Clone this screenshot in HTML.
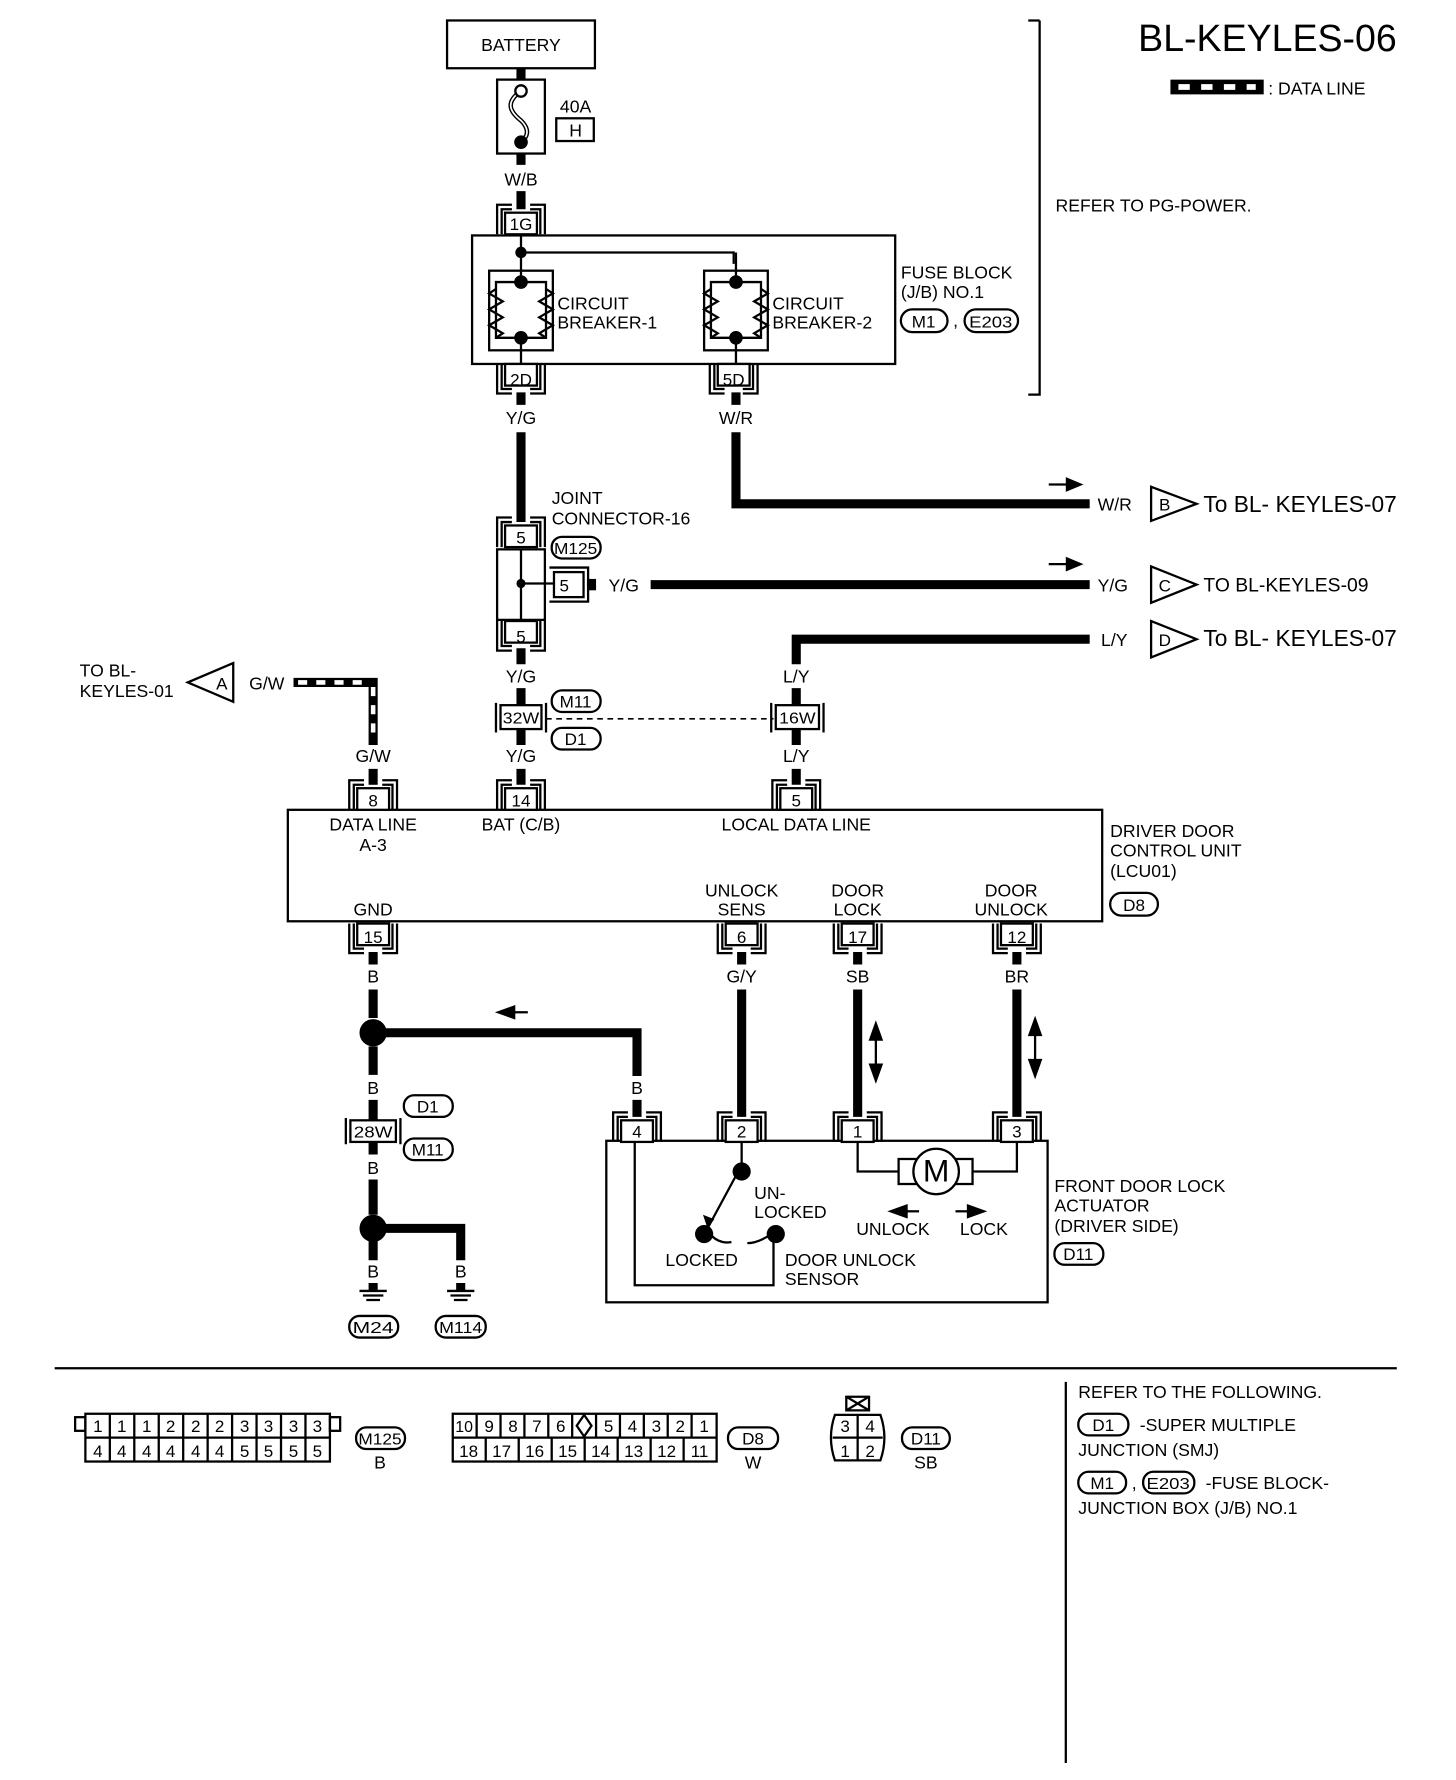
<!DOCTYPE html>
<html><head><meta charset="utf-8"><style>
html,body{margin:0;padding:0;background:#fff}
svg{display:block}
text{font-family:"Liberation Sans",sans-serif;fill:#000}
</style></head><body>
<svg width="1456" height="1780" viewBox="0 0 1280 1565" xmlns="http://www.w3.org/2000/svg" font-size="15.5">
<defs>
<g id="ct" fill="none" stroke="#000" stroke-width="2">
<path d="M-21,26 V0 H-8 M8,0 H21 V26 M-17,26 V4 H-8 M8,4 H17 V26"/>
<rect x="-14" y="7" width="28" height="19" fill="#fff"/>
</g>
<g id="cb" fill="none" stroke="#000" stroke-width="2">
<rect x="-28" y="0" width="56" height="70"/>
<path d="M0,-16 V10 M-22,10 H22 V59 H-22 Z M0,59 V86"/>
<path d="M-22,16 l-6,4 l12,7 l-12,7 l12,7 l-12,7 l12,7 l-6,4 M22,16 l6,4 l-12,7 l12,7 l-12,7 l12,7 l-12,7 l6,4"/>
<circle cx="0" cy="10" r="5" fill="#000"/><circle cx="0" cy="59" r="5" fill="#000"/>
</g>
<g id="gnd" stroke="#000" stroke-width="2"><path d="M-12,0 H12 M-9,4 H9 M-6,8 H6"/></g>
</defs>
<g fill="none" stroke="#000" stroke-width="2">
<rect x="393" y="18" width="130" height="42"/>
<rect x="437" y="70" width="42" height="65"/>
<path d="M458,80 c-14,10 -10,18 0,26 c8,8 6,14 0,19" stroke-width="4"/>
<path d="M458,80 c-14,10 -10,18 0,26 c8,8 6,14 0,19" stroke="#fff" stroke-width="1.5"/>
<rect x="489" y="104" width="33" height="20"/>
<rect x="415" y="207" width="372" height="113"/>
<path d="M458,205 V222 H645 V232"/>
<path d="M914,18 H904 M914,18 V347 H904"/>
<rect x="437" y="483" width="42" height="62"/>
<path d="M458,483 V545 M458,513 H487"/>
<rect x="487" y="503" width="26" height="22" fill="#fff"/>
<path d="M483,499 H517 V529 H483"/>
<rect x="517" y="510" width="6" height="8" fill="#000"/>
<rect x="253" y="712" width="716" height="98"/>
<rect x="533" y="1003" width="388" height="142"/>
<path d="M558,1003 V1130 H680 V1083"/>
<path d="M652,1003 V1030 M649,1030 L622,1080"/>
<path d="M625,1086 q8,8 18,6 M657,1093 q8,0 18,-6"/>
<path d="M754,1003 V1030 H790 M855,1030 H894 V1003"/>
<rect x="790" y="1019" width="65" height="22" fill="#fff"/>
<circle cx="823" cy="1030" r="20" fill="#fff"/>
<path d="M480,632 H680" stroke-dasharray="5,4" stroke-width="1.5"/>
<path d="M48,1203 H1228 M937,1215 V1550"/>
<path d="M1012,428 L1052,443 L1012,458 Z M1012,498 L1052,514 L1012,530 Z M1012,546 L1052,562 L1012,578 Z M205,583 L165,600 L205,617 Z"/>
</g>
<polygon points="622,1080 618,1068 628,1072" fill="#000"/>
<g fill="#000"><circle cx="458" cy="222" r="5"/><circle cx="458" cy="80" r="5" fill="#fff" stroke="#000" stroke-width="2"/><circle cx="458" cy="125" r="6"/><circle cx="458" cy="513" r="4"/>
<circle cx="652" cy="1030" r="8"/><circle cx="619" cy="1085" r="8"/><circle cx="682" cy="1085" r="8"/>
<circle cx="328" cy="908" r="12"/><circle cx="328" cy="1080" r="12"/></g>
<use href="#cb" x="458" y="238"/><use href="#cb" x="647" y="238"/>
<g fill="none" stroke="#000" stroke-width="8">
<path d="M458,60 V70 M458,135 V145 M458,168 V184"/>
<path d="M458,345 V356 M647,345 V356 M458,380 V459 M647,380 V443 H958"/>
<path d="M572,514 H958 M958,562 H700 V584 M458,570 V584 M458,605 V622 M700,605 V622 M458,641 V655 M700,641 V655 M458,676 V690 M700,676 V690"/>
<path d="M328,837 V848 M652,837 V848 M754,837 V848 M894,837 V848"/>
<path d="M328,870 V895 M328,920 V945 M328,908 H560 V946 M652,870 V982 M754,870 V982 M894,870 V982 M560,967 V982"/>
<path d="M328,967 V985 M328,1003 V1015 M328,1037 V1068 M328,1080 H405 V1108 M328,1090 V1108 M328,1128 V1135 M405,1128 V1135"/>
<path d="M328,676 V690"/>
<path d="M258,600 H328 V655"/>
</g>
<path d="M262,600 H324 M328,604 V652" stroke="#fff" stroke-width="4" stroke-dasharray="8,8" fill="none"/>
<g stroke="#000" stroke-width="2"><path d="M1030,71 H1110 V82 H1030 Z" fill="#000"/></g>
<path d="M1036,76.5 H1104" stroke="#fff" stroke-width="5" stroke-dasharray="10,10"/>
<use href="#ct" x="458" y="180"/>
<use href="#ct" x="458" y="455"/>
<use href="#ct" x="328" y="686"/><use href="#ct" x="458" y="686"/><use href="#ct" x="700" y="686"/>
<use href="#ct" x="560" y="978"/><use href="#ct" x="652" y="978"/><use href="#ct" x="754" y="978"/><use href="#ct" x="894" y="978"/>
<g transform="translate(0,346) scale(1,-1)"><use href="#ct" x="458" y="0"/><use href="#ct" x="645" y="0"/></g>
<g transform="translate(0,572) scale(1,-1)"><use href="#ct" x="458" y="0"/></g>
<g transform="translate(0,838) scale(1,-1)"><use href="#ct" x="328" y="0"/><use href="#ct" x="652" y="0"/><use href="#ct" x="754" y="0"/><use href="#ct" x="894" y="0"/></g>
<g fill="#fff" stroke="#000" stroke-width="2">
<rect x="440" y="620" width="36" height="21"/><rect x="682" y="620" width="38" height="21"/><rect x="308" y="985" width="40" height="19"/>
<path d="M436,618 V644 M480,618 V644 M678,618 V644 M724,618 V644 M304,983 V1006 M352,983 V1006" fill="none"/>
</g>
<g fill="#000" stroke="#000" stroke-width="2">
<path d="M922,426 H938"/><polygon points="950,426 938,421 938,431"/>
<path d="M922,496 H938"/><polygon points="950,496 938,491 938,501"/>
<path d="M452,890 H464"/><polygon points="438,890 452,885 452,895"/>
<path d="M770,912 V938"/><polygon points="770,900 765,914 775,914"/><polygon points="770,950 765,936 775,936"/>
<path d="M910,908 V934"/><polygon points="910,896 905,910 915,910"/><polygon points="910,946 905,932 915,932"/>
<path d="M796,1065 H808"/><polygon points="783,1065 797,1060 797,1070"/>
<path d="M840,1065 H852"/><polygon points="865,1065 851,1060 851,1070"/>
</g>
<use href="#gnd" x="328" y="1135"/><use href="#gnd" x="405" y="1135"/>
<g fill="none" stroke="#000" stroke-width="2">
<rect x="792" y="272" width="41" height="20" rx="10"/><rect x="848" y="272" width="47" height="20" rx="10"/>
<rect x="485" y="472" width="43" height="19" rx="9"/>
<rect x="485" y="607" width="43" height="19" rx="9"/><rect x="485" y="640" width="43" height="19" rx="9"/>
<rect x="976" y="785" width="42" height="20" rx="10"/>
<rect x="355" y="963" width="43" height="19" rx="9"/><rect x="355" y="1001" width="43" height="19" rx="9"/>
<rect x="927" y="1093" width="43" height="19" rx="9"/>
<rect x="307" y="1157" width="43" height="19" rx="9"/><rect x="383" y="1157" width="44" height="19" rx="9"/>
<rect x="313" y="1255" width="43" height="19" rx="9"/><rect x="640" y="1255" width="44" height="19" rx="9"/><rect x="793" y="1255" width="42" height="19" rx="9"/>
<rect x="948" y="1243" width="44" height="19" rx="9"/><rect x="948" y="1294" width="42" height="19" rx="9"/><rect x="1005" y="1294" width="45" height="19" rx="9"/>
<rect x="75" y="1243" width="215" height="42"/><path d="M75,1264 H290 M96.5,1243 V1285 M118,1243 V1285 M139.5,1243 V1285 M161,1243 V1285 M182.5,1243 V1285 M204,1243 V1285 M225.5,1243 V1285 M247,1243 V1285 M268.5,1243 V1285"/>
<rect x="66" y="1246" width="9" height="12"/><rect x="290" y="1246" width="9" height="12"/>
<rect x="398" y="1243" width="232" height="42"/><path d="M398,1264 H630 M419,1243 V1264 M440,1243 V1264 M461,1243 V1264 M482,1243 V1264 M503,1243 V1264 M524,1243 V1264 M545,1243 V1264 M566,1243 V1264 M587,1243 V1264 M608,1243 V1264 M427,1264 V1285 M456,1264 V1285 M485,1264 V1285 M514,1264 V1285 M543,1264 V1285 M572,1264 V1285 M601,1264 V1285"/>
<path d="M513.5,1244 L507,1253.5 L513.5,1263 L520,1253.5 Z"/>
<path d="M734,1244 H774 Q781,1264 774,1284 H734 Q727,1264 734,1244 Z M732,1264 H776 M754,1244 V1284"/>
<path d="M744,1228 H764 V1240 H744 Z M744,1228 L764,1240 M764,1228 L744,1240"/>
</g>
<g text-anchor="middle">
<text x="458" y="45">BATTERY</text>
<text x="506" y="99">40A</text><text x="506" y="120">H</text>
<text x="458" y="163">W/B</text>
<text x="458" y="202" font-size="15">1G</text>
<text x="458" y="339" font-size="15">2D</text><text x="645" y="339" font-size="15">5D</text>
<text x="458" y="373">Y/G</text><text x="647" y="373">W/R</text>
<text x="458" y="478" font-size="15">5</text><text x="496" y="520" font-size="15">5</text><text x="458" y="565" font-size="15">5</text>
<text x="458" y="600">Y/G</text><text x="700" y="600">L/Y</text>
<text x="458" y="636" font-size="14" textLength="32" lengthAdjust="spacingAndGlyphs">32W</text><text x="701" y="636" font-size="14" textLength="32" lengthAdjust="spacingAndGlyphs">16W</text>
<text x="458" y="670">Y/G</text><text x="700" y="670">L/Y</text><text x="328" y="670">G/W</text>
<text x="506" y="622" font-size="15">M11</text><text x="506" y="655" font-size="15">D1</text><text x="506" y="487" font-size="14" textLength="38" lengthAdjust="spacingAndGlyphs">M125</text>
<text x="328" y="709" font-size="15">8</text><text x="458" y="709" font-size="15">14</text><text x="700" y="709" font-size="15">5</text>
<text x="328" y="730">DATA LINE</text><text x="328" y="748">A-3</text><text x="458" y="730">BAT (C/B)</text><text x="700" y="730">LOCAL DATA LINE</text>
<text x="652" y="788">UNLOCK</text><text x="652" y="805">SENS</text><text x="754" y="788">DOOR</text><text x="754" y="805">LOCK</text><text x="889" y="788">DOOR</text><text x="889" y="805">UNLOCK</text><text x="328" y="805">GND</text>
<text x="328" y="829" font-size="15">15</text><text x="652" y="829" font-size="15">6</text><text x="754" y="829" font-size="15">17</text><text x="894" y="829" font-size="15">12</text>
<text x="328" y="864">B</text><text x="652" y="864">G/Y</text><text x="754" y="864">SB</text><text x="894" y="864">BR</text>
<text x="560" y="962">B</text><text x="328" y="962">B</text><text x="328" y="1032">B</text><text x="328" y="1123">B</text><text x="405" y="1123">B</text>
<text x="560" y="1000" font-size="15">4</text><text x="652" y="1000" font-size="15">2</text><text x="754" y="1000" font-size="15">1</text><text x="894" y="1000" font-size="15">3</text>
<text x="328" y="1000" font-size="14" textLength="34" lengthAdjust="spacingAndGlyphs">28W</text>
<text x="376" y="978" font-size="15">D1</text><text x="376" y="1016" font-size="15">M11</text>
<text x="328" y="1172" font-size="14" textLength="36" lengthAdjust="spacingAndGlyphs">M24</text><text x="405" y="1172" font-size="14" textLength="38" lengthAdjust="spacingAndGlyphs">M114</text>
<text x="823" y="1039" font-size="28">M</text>
<text x="785" y="1086">UNLOCK</text><text x="865" y="1086">LOCK</text>
<text x="812" y="288" font-size="15">M1</text><text x="871" y="288" font-size="14" textLength="38" lengthAdjust="spacingAndGlyphs">E203</text>
<text x="997" y="801" font-size="15">D8</text><text x="948" y="1108" font-size="15">D11</text>
<text x="1024" y="449" font-size="15">B</text><text x="1024" y="520" font-size="15">C</text><text x="1024" y="568" font-size="15">D</text><text x="195" y="606" font-size="15">A</text>
<text x="334" y="1270" font-size="14" textLength="38" lengthAdjust="spacingAndGlyphs">M125</text><text x="334" y="1291">B</text>
<text x="662" y="1270" font-size="15">D8</text><text x="662" y="1291">W</text>
<text x="814" y="1270" font-size="15">D11</text><text x="814" y="1291">SB</text>
<text x="970" y="1258" font-size="15">D1</text><text x="969" y="1309" font-size="15">M1</text><text x="1027" y="1309" font-size="14" textLength="38" lengthAdjust="spacingAndGlyphs">E203</text>
</g>
<g font-size="15" text-anchor="middle">
<text x="86" y="1259">1</text><text x="107" y="1259">1</text><text x="129" y="1259">1</text><text x="150" y="1259">2</text><text x="172" y="1259">2</text><text x="193" y="1259">2</text><text x="215" y="1259">3</text><text x="236" y="1259">3</text><text x="258" y="1259">3</text><text x="279" y="1259">3</text>
<text x="86" y="1281">4</text><text x="107" y="1281">4</text><text x="129" y="1281">4</text><text x="150" y="1281">4</text><text x="172" y="1281">4</text><text x="193" y="1281">4</text><text x="215" y="1281">5</text><text x="236" y="1281">5</text><text x="258" y="1281">5</text><text x="279" y="1281">5</text>
<text x="408" y="1259" font-size="14">10</text><text x="430" y="1259">9</text><text x="451" y="1259">8</text><text x="472" y="1259">7</text><text x="493" y="1259">6</text><text x="535" y="1259">5</text><text x="556" y="1259">4</text><text x="577" y="1259">3</text><text x="598" y="1259">2</text><text x="619" y="1259">1</text>
<text x="412" y="1281">18</text><text x="441" y="1281">17</text><text x="470" y="1281">16</text><text x="499" y="1281">15</text><text x="528" y="1281">14</text><text x="557" y="1281">13</text><text x="586" y="1281">12</text><text x="615" y="1281">11</text>
<text x="743" y="1259">3</text><text x="765" y="1259">4</text><text x="743" y="1281">1</text><text x="765" y="1281">2</text>
</g>
<text x="1228" y="45" font-size="33" text-anchor="end">BL-KEYLES-06</text>
<text x="1115" y="83">: DATA LINE</text>
<text x="928" y="186">REFER TO PG-POWER.</text>
<text x="490" y="272">CIRCUIT</text><text x="490" y="289">BREAKER-1</text>
<text x="679" y="272">CIRCUIT</text><text x="679" y="289">BREAKER-2</text>
<text x="792" y="245">FUSE BLOCK</text><text x="792" y="262">(J/B) NO.1</text><text x="838" y="287">,</text>
<text x="485" y="443">JOINT</text><text x="485" y="461">CONNECTOR-16</text>
<text x="535" y="520">Y/G</text>
<text x="965" y="449">W/R</text><text x="965" y="520">Y/G</text><text x="968" y="568">L/Y</text>
<text x="1058" y="450" font-size="20">To BL- KEYLES-07</text>
<text x="1058" y="520" font-size="17">TO BL-KEYLES-09</text>
<text x="1058" y="568" font-size="20">To BL- KEYLES-07</text>
<text x="70" y="595">TO BL-</text><text x="70" y="613">KEYLES-01</text><text x="219" y="606">G/W</text>
<text x="976" y="736">DRIVER DOOR</text><text x="976" y="753">CONTROL UNIT</text><text x="976" y="771">(LCU01)</text>
<text x="663" y="1054">UN-</text><text x="663" y="1071">LOCKED</text>
<text x="585" y="1113">LOCKED</text><text x="690" y="1113">DOOR UNLOCK</text><text x="690" y="1130">SENSOR</text>
<text x="927" y="1048">FRONT DOOR LOCK</text><text x="927" y="1065">ACTUATOR</text><text x="927" y="1083">(DRIVER SIDE)</text>
<text x="948" y="1229">REFER TO THE FOLLOWING.</text>
<text x="1002" y="1258">-SUPER MULTIPLE</text><text x="948" y="1280">JUNCTION (SMJ)</text>
<text x="995" y="1309">,</text><text x="1060" y="1309">-FUSE BLOCK-</text><text x="948" y="1331">JUNCTION BOX (J/B) NO.1</text>
</svg>
</body></html>
